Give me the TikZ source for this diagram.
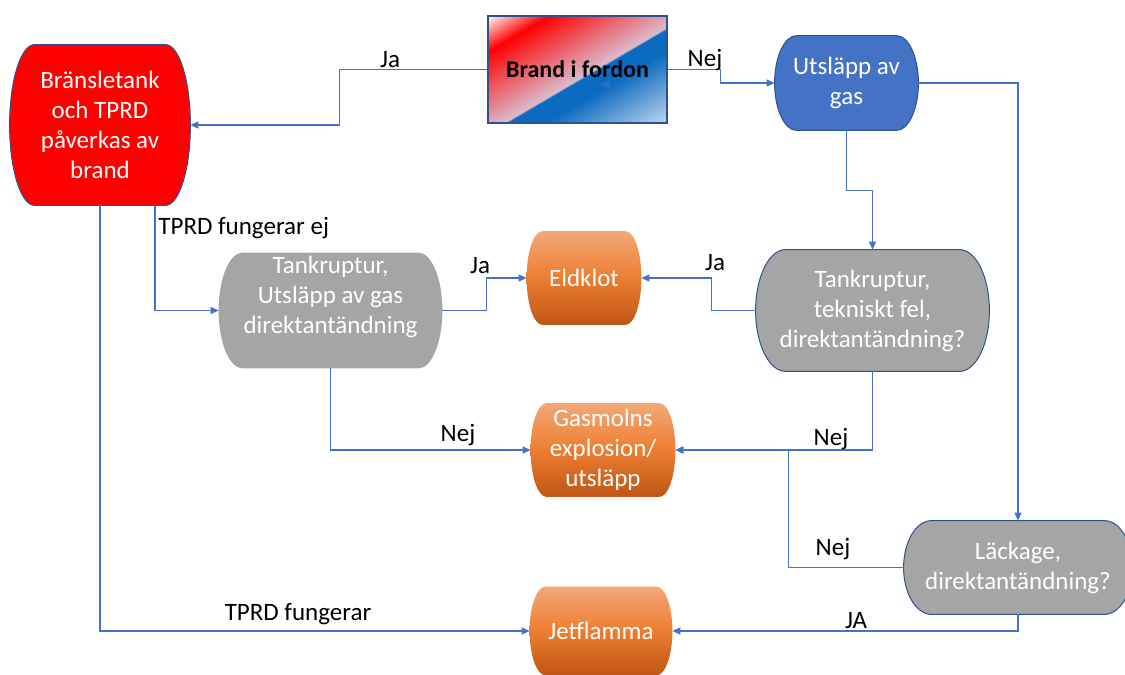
\documentclass[tikz,border=0pt]{standalone}
\usepackage{fontspec}
\setmainfont{Carlito}
\usepackage{tikz}
\usetikzlibrary{arrows.meta,calc,backgrounds,positioning}
\definecolor{fuelred}{HTML}{FF0000}
\definecolor{edgeblue}{HTML}{2F528F}
\definecolor{gasblue}{HTML}{4472C4}
\definecolor{linkblue}{HTML}{4472C4}
\definecolor{tankgray}{HTML}{A5A5A5}
\definecolor{orTop}{HTML}{F3A877}
\definecolor{orMid}{HTML}{ED7D31}
\definecolor{orBot}{HTML}{BF5614}
\definecolor{firepink}{HTML}{D9BCCD}
\definecolor{fireblue}{HTML}{0B6BC0}
\definecolor{firelight}{HTML}{C3D6EE}
\pgfdeclarehorizontalshading{firegrad}{100bp}{color(0bp)=(white); color(25bp)=(white);
  color(33.5bp)=(fuelred); color(52.4bp)=(firepink); color(52.8bp)=(fireblue);
  color(58bp)=(fireblue); color(75bp)=(firelight); color(100bp)=(firelight)}
% box with flat top/bottom and bulging sides, drawn round a named node
\newcommand{\capsule}[3]{%
  \path[#3] let \p1=(#1.north east), \p2=(#1.south west), \n1={abs(\y1-\y2)/2} in
    (\x2+#2,\y1) -- (\x1-#2,\y1)
    arc[start angle=90,end angle=-90,x radius=#2,y radius=\n1]
    -- (\x2+#2,\y2)
    arc[start angle=270,end angle=90,x radius=#2,y radius=\n1] -- cycle;}

\begin{document}
\begin{tikzpicture}[x=0.5pt,y=-0.5pt,
  flowbox/.style={inner sep=0pt,align=center,text=white,font=\fontsize{12.5}{15}\selectfont},
  lbl/.style={inner sep=0pt,font=\fontsize{12.5}{15}\selectfont},
  flow/.style={draw=linkblue,line width=0.6pt,-{Triangle[length=4pt,width=3.5pt]}}]
\useasboundingbox (0,0) rectangle (1125,675);
\node[flowbox,minimum width=90pt,minimum height=80pt] (fuel) at (100,125) {Bränsletank\\och TPRD\\påverkas av\\brand};
\node[draw=edgeblue,line width=0.6pt,minimum width=89.5pt,minimum height=53.5pt,inner sep=0pt,
  font=\fontsize{12}{15}\selectfont\bfseries] (fire) at (577.5,69.5) {Brand i fordon};
\node[flowbox,minimum width=71.5pt,minimum height=47pt] (gas) at (846.5,83) {Utsläpp av\\gas};
\node[flowbox,minimum width=111.5pt,minimum height=57.5pt,text depth=16pt] (tank1) at (330.5,310.5) {Tankruptur,\\Utsläpp av gas\\direktantändning};
\node[flowbox,minimum width=116.5pt,minimum height=60.5pt] (tank2) at (872.5,310.5) {Tankruptur,\\tekniskt fel,\\direktantändning?};
\node[flowbox,minimum width=57pt,minimum height=46.5pt] (eld) at (584,278) {Eldklot};
\node[flowbox,minimum width=72pt,minimum height=46.5pt] (cloud) at (603,450) {Gasmolns\\explosion/\\utsläpp};
\node[flowbox,minimum width=71pt,minimum height=44pt] (jet) at (601,631) {Jetflamma};
\node[flowbox,minimum width=114pt,minimum height=46.5pt] (leak) at (1018,567.5) {Läckage,\\direktantändning?};

\begin{scope}[on background layer]
\begin{scope}
\clip (fire.south west) rectangle (fire.north east);
\shade[shading=firegrad,transform canvas={shift={(fire.center)},rotate=-59.6}]
  (-46pt,-60pt) rectangle (46pt,60pt);
\end{scope}
\capsule{fuel}{12.5pt}{fill=fuelred,draw=edgeblue,line width=0.5pt}
\capsule{gas}{11pt}{fill=gasblue,draw=edgeblue,line width=0.5pt}
\capsule{tank1}{12pt}{fill=tankgray}
\capsule{tank2}{15pt}{fill=tankgray,draw=edgeblue,line width=0.5pt}
\capsule{leak}{14pt}{fill=tankgray,draw=edgeblue,line width=0.5pt}
\capsule{eld}{8pt}{top color=orTop,bottom color=orBot,middle color=orMid}
\capsule{cloud}{8pt}{top color=orTop,bottom color=orBot,middle color=orMid}
\capsule{jet}{8pt}{top color=orTop,bottom color=orBot,middle color=orMid}
\end{scope}
\fill[linkblue,opacity=0.6] (600,84.5) -- (610,80.5) -- (610,88.5) -- cycle;

\draw[flow] (fire.west) -- ++(-148,0) |- (fuel.east);
\draw[flow] (fire.east) -- ++(53,0) |- (gas.west);
\draw[flow] (gas.south) -- ++(0,60) -| (tank2.north);
\draw[flow] (gas.east) -| (leak.north);
\draw[flow] ([xshift=27.5pt]fuel.south) |- (tank1.west);
\draw[flow] (fuel.south) |- (jet.west);
\draw[flow] (tank1.east) -- ++(44,0) |- (eld.west);
\draw[flow] (tank2.west) -- ++(-44,0) |- (eld.east);
\draw[flow] (tank1.south) |- (cloud.west);
\draw[flow] (tank2.south) |- (cloud.east);
\draw[flow] (leak.west) -- ++(-115,0) |- (cloud.east);
\draw[flow] (leak.south) |- (jet.east);

\node[lbl] (jaFuel) at (390,60) {Ja};
\node[lbl] (nejGas) at (705,60) {Nej};
\node[lbl,anchor=west] (ejTprd) at (158,228) {TPRD fungerar ej};
\node[lbl] (jaTank1) at (480,266) {Ja};
\node[lbl] (jaTank2) at (715,263) {Ja};
\node[lbl] (nejTank1) at (458,435) {Nej};
\node[lbl] (nejTank2) at (831,439) {Nej};
\node[lbl] (nejLeak) at (833,549) {Nej};
\node[lbl] (jaLeak) at (856,621) {JA};
\node[lbl] (okTprd) at (298,614) {TPRD fungerar};
\end{tikzpicture}
\end{document}
